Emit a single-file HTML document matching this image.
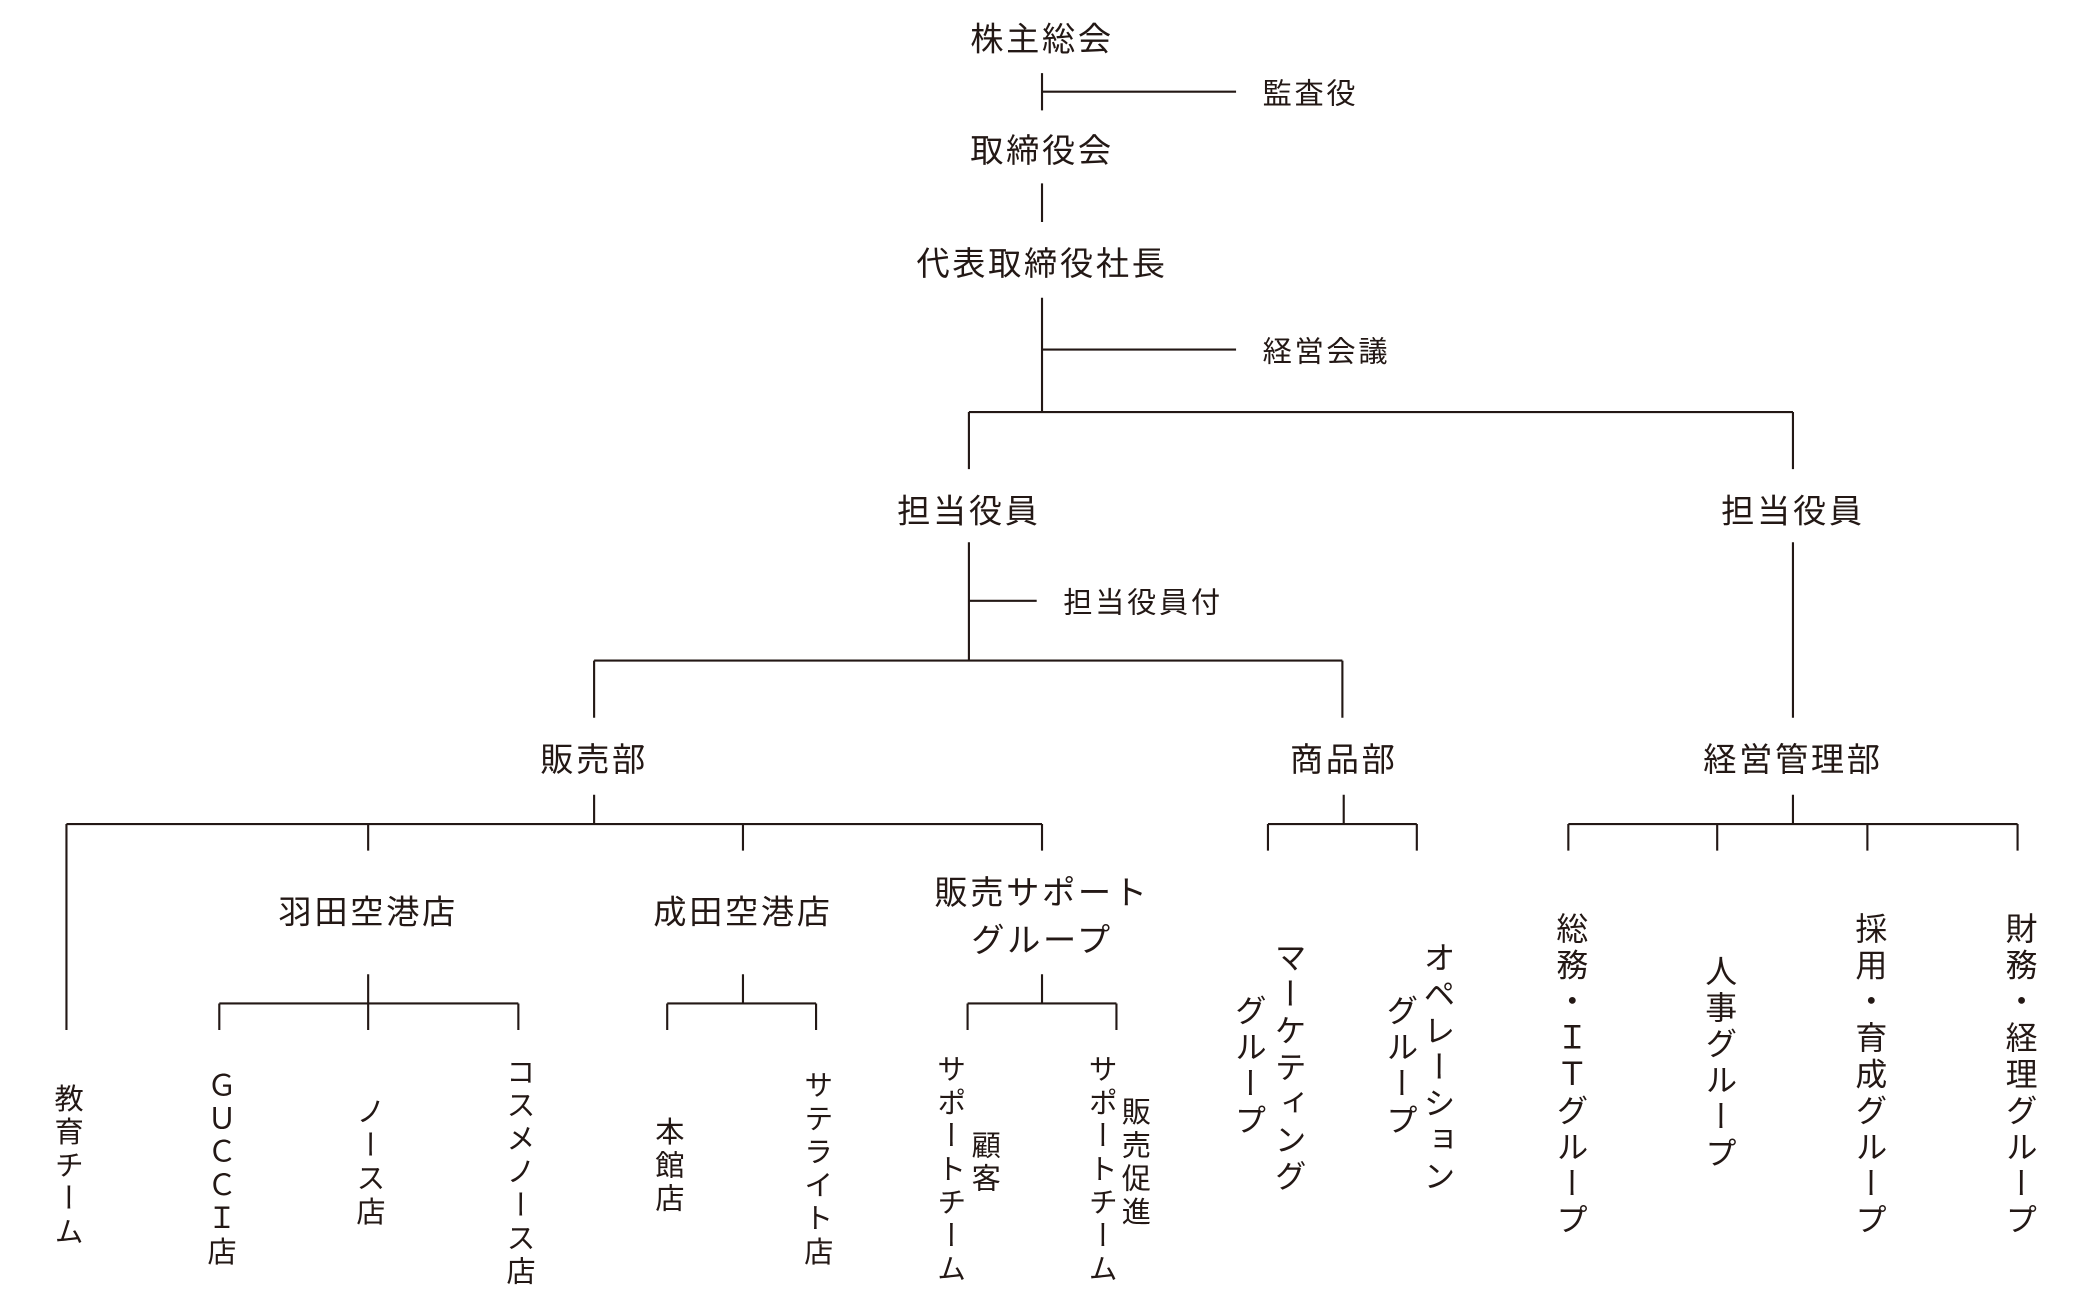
<!DOCTYPE html>
<html><head><meta charset="utf-8"><style>
html,body{margin:0;padding:0;background:#fff;}
#w{position:relative;width:2084px;height:1294px;overflow:hidden;background:#fff;}
#s{position:absolute;left:0;top:0;width:1568px;height:974px;transform:scale(1.3291);transform-origin:0 0;}
.t{position:absolute;transform:translate(-50%,-50%);white-space:nowrap;font-family:"Liberation Sans","Noto Sans CJK JP",sans-serif;color:#231815;}
.b{font-size:25px;letter-spacing:2px;}
.m{font-size:22px;letter-spacing:2px;}
.v{position:absolute;transform:translateX(-50%);writing-mode:vertical-rl;text-orientation:upright;font-family:"Liberation Sans","Noto Sans CJK JP",sans-serif;font-size:22px;letter-spacing:3px;color:#231815;white-space:nowrap;}
.v.L{font-size:24px;letter-spacing:3.4px;}
svg{position:absolute;left:0;top:0;}
</style></head><body><div id="w"><div id="s">
<svg width="1568" height="974" viewBox="0 0 1568 974" stroke="#231815" stroke-width="1.6" fill="none">
<path d="M784 55V83M784 69H930M784 138V167M784 224V310M784 263H930M729 310H1349M729 310V353M1349 310V353"/>
<path d="M729 408V497M729 452H780M447 497H1010M447 497V540M1010 497V540M1349 408V540"/>
<path d="M447 598V620M50 620H784M50 620V775M277 620V640M559 620V640M784 620V640"/>
<path d="M1011 598V620M954 620H1066M954 620V640M1066 620V640"/>
<path d="M1349 598V620M1180 620H1518M1180 620V640M1292 620V640M1405 620V640M1518 620V640"/>
<path d="M277 733V775M165 755H390M165 755V775M390 755V775"/>
<path d="M559 733V755M502 755H614M502 755V775M614 755V775"/>
<path d="M784 733V755M728 755H840M728 755V775M840 755V775"/>
</svg>
<div class="t b" style="left:784px;top:28px">株主総会</div>
<div class="t m" style="left:986px;top:69px">監査役</div>
<div class="t b" style="left:784px;top:112px">取締役会</div>
<div class="t b" style="left:784px;top:197px">代表取締役社長</div>
<div class="t m" style="left:998px;top:263px">経営会議</div>
<div class="t b" style="left:729px;top:383px">担当役員</div>
<div class="t b" style="left:1349px;top:383px">担当役員</div>
<div class="t m" style="left:860px;top:452px">担当役員付</div>
<div class="t b" style="left:447px;top:570px">販売部</div>
<div class="t b" style="left:1011px;top:570px">商品部</div>
<div class="t b" style="left:1349px;top:570px">経営管理部</div>
<div class="t b" style="left:277px;top:685px">羽田空港店</div>
<div class="t b" style="left:559px;top:685px">成田空港店</div>
<div class="t b" style="left:784px;top:670px">販売サポート</div>
<div class="t b" style="left:784px;top:706px">グループ</div>
<div class="v" style="left:50px;top:815px">教育チーム</div>
<div class="v" style="left:165px;top:805px">ＧＵＣＣＩ店</div>
<div class="v" style="left:277px;top:825px">ノース店</div>
<div class="v" style="left:390px;top:795px">コスメノース店</div>
<div class="v" style="left:502px;top:840px">本館店</div>
<div class="v" style="left:614px;top:805px">サテライト店</div>
<div class="v" style="left:714px;top:793px">サポートチーム</div>
<div class="v" style="left:740px;top:850px">顧客</div>
<div class="v" style="left:828px;top:793px">サポートチーム</div>
<div class="v" style="left:853px;top:825px">販売促進</div>
<div class="v L" style="left:968px;top:708px">マーケティング</div>
<div class="v L" style="left:938px;top:748px">グループ</div>
<div class="v L" style="left:1080px;top:708px">オペレーション</div>
<div class="v L" style="left:1052px;top:748px">グループ</div>
<div class="v L" style="left:1180px;top:686px">総務・ＩＴグループ</div>
<div class="v L" style="left:1292px;top:718px">人事グループ</div>
<div class="v L" style="left:1405px;top:686px">採用・育成グループ</div>
<div class="v L" style="left:1518px;top:686px">財務・経理グループ</div>
</div></div></body></html>
